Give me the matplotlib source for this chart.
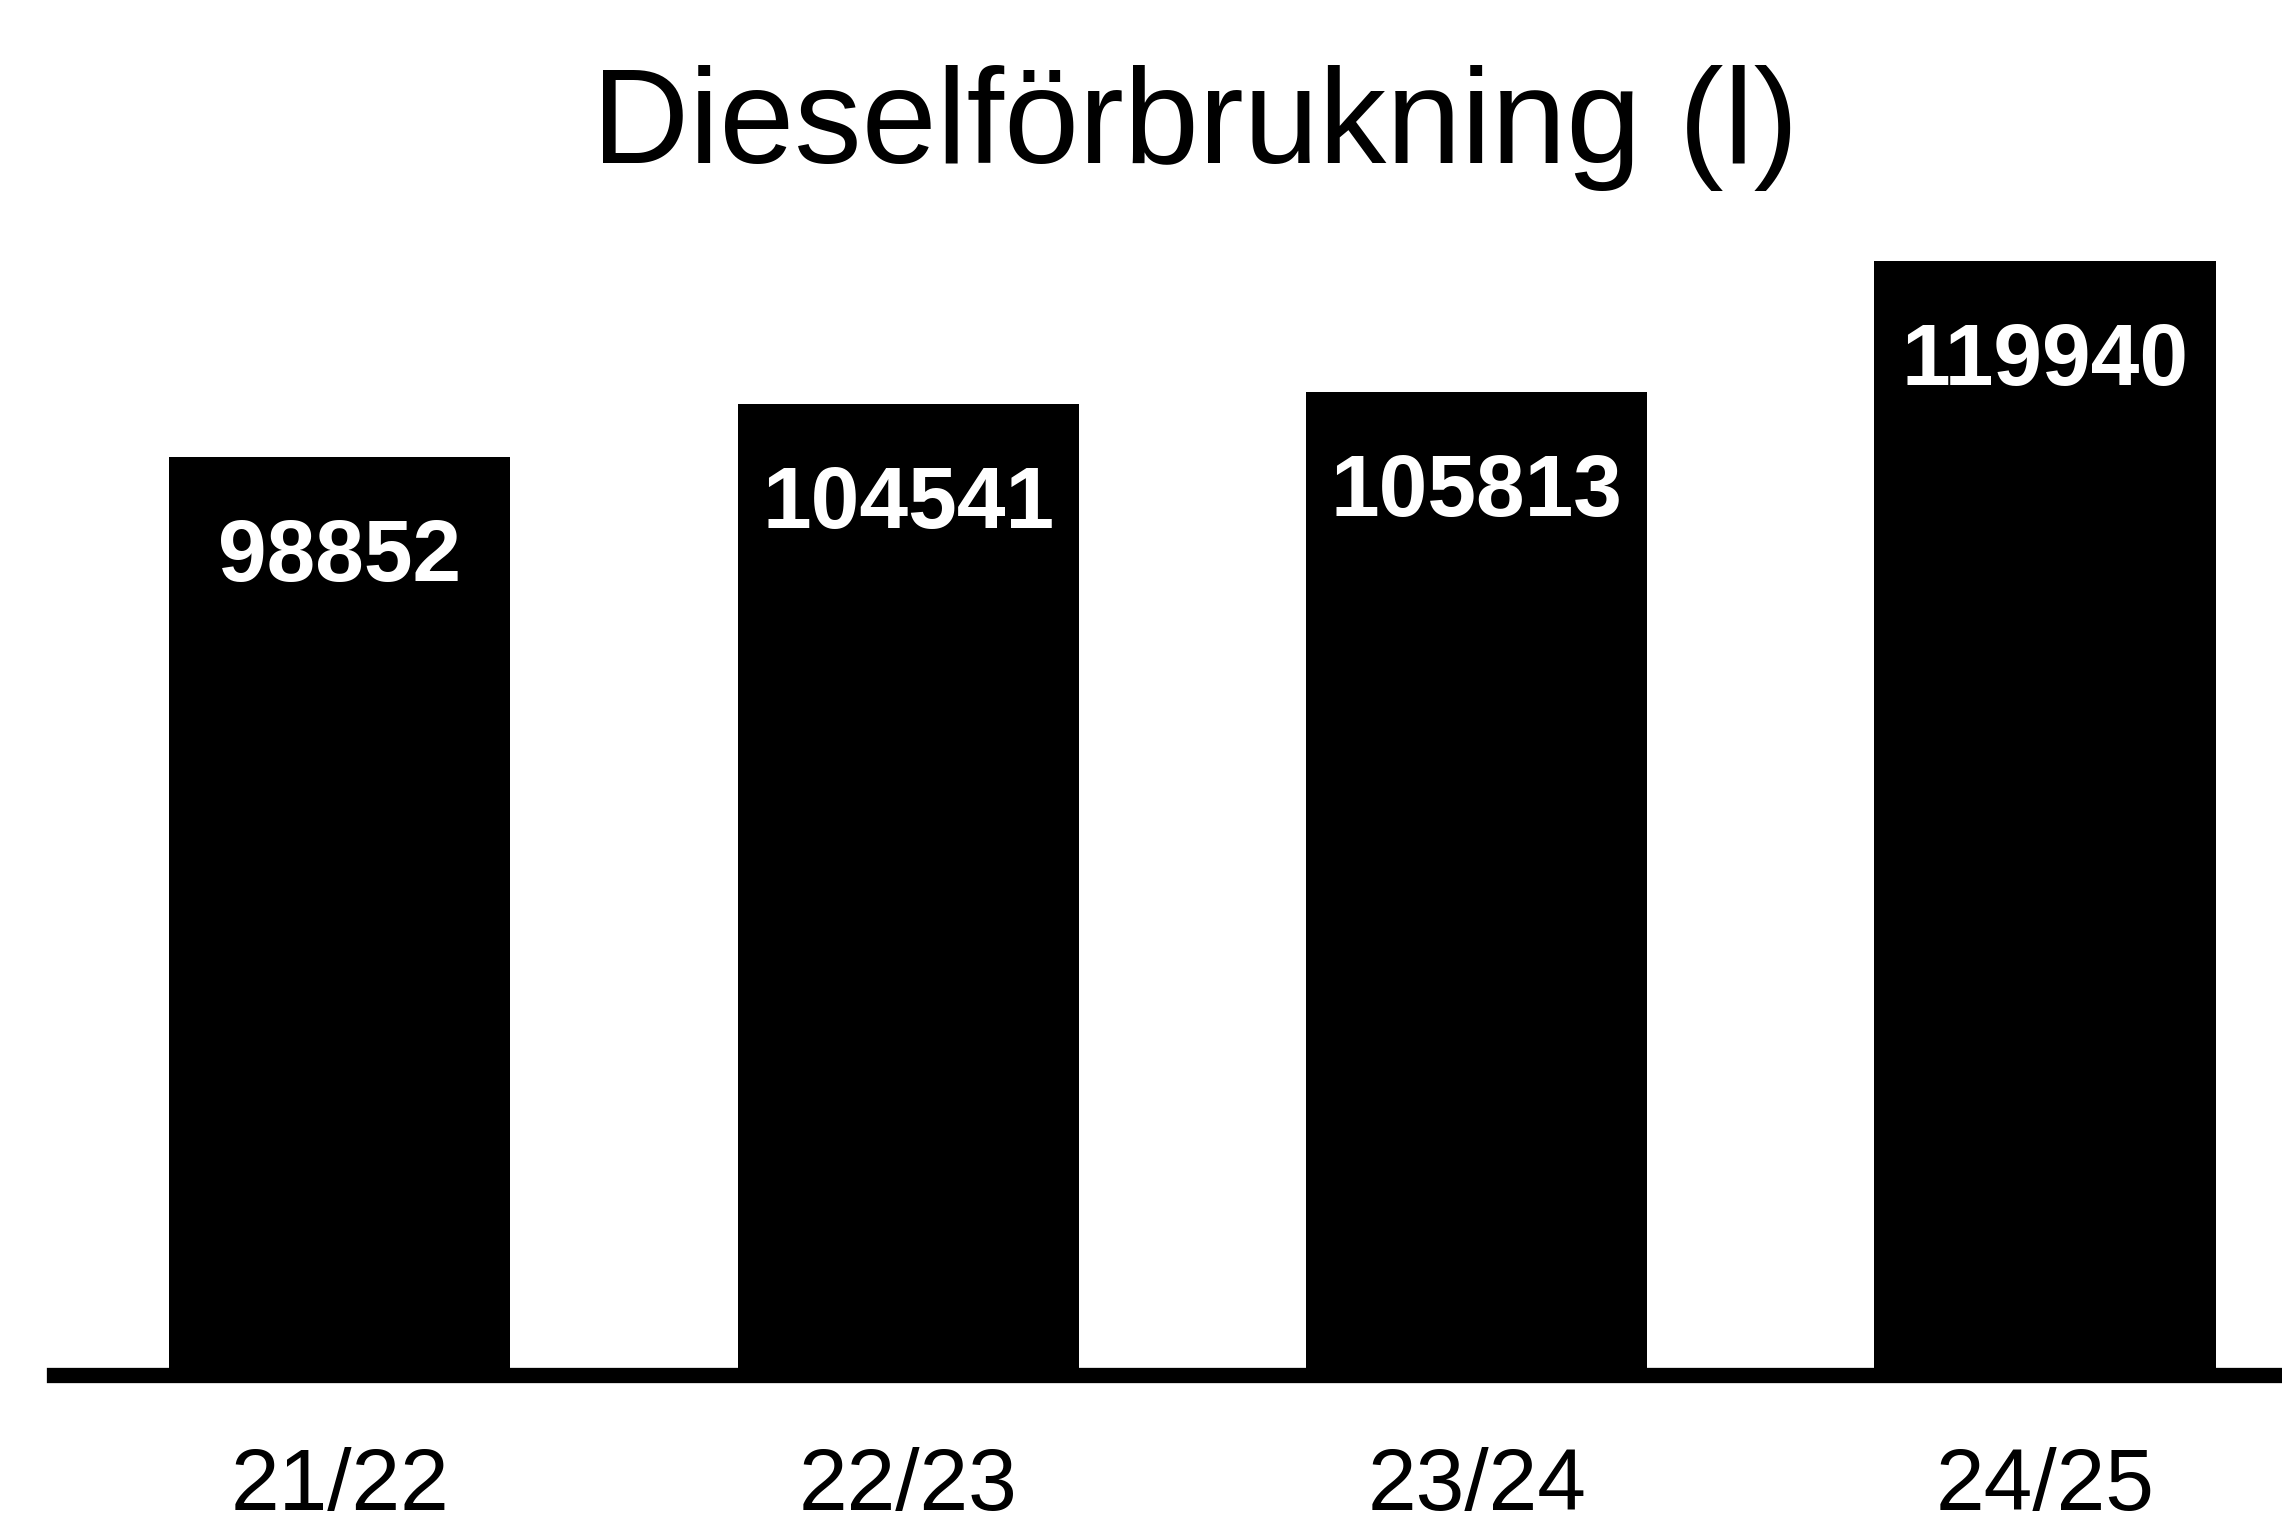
import matplotlib.pyplot as plt

# data
seasons = ["21/22", "22/23", "23/24", "24/25"]
diesel_l = [98852, 104541, 105813, 119940]

plt.rcParams['font.family'] = ['Liberation Sans', 'DejaVu Sans']

fig = plt.figure(figsize=(22.82, 15.25), dpi=100)
ax = fig.add_axes([0.0237, 0.0984, 0.9763, 0.7705])

x = list(range(len(seasons)))
bars = ax.bar(x, diesel_l, width=0.6, color="black", zorder=2)

for xi, v in zip(x, diesel_l):
    ax.annotate(str(v), (xi, v), xytext=(0, -44), textcoords="offset points",
                ha="center", va="top", color="white",
                fontsize=63, fontweight="bold")

ax.set_xlim(-0.503, 3.417)
ax.set_ylim(0, 126500)
ax.set_xticks(x, seasons, fontsize=63)
ax.tick_params(axis="x", length=0, pad=52)
ax.set_yticks([])

for s in ["top", "right", "left"]:
    ax.spines[s].set_visible(False)
ax.spines["bottom"].set_linewidth(11)
ax.spines["bottom"].set_zorder(3)

fig.text(0.5237, 1 - 163 / 1525, "Dieselförbrukning (l)",
         ha="center", va="baseline", fontsize=97)

plt.savefig("out.png", dpi=100)
